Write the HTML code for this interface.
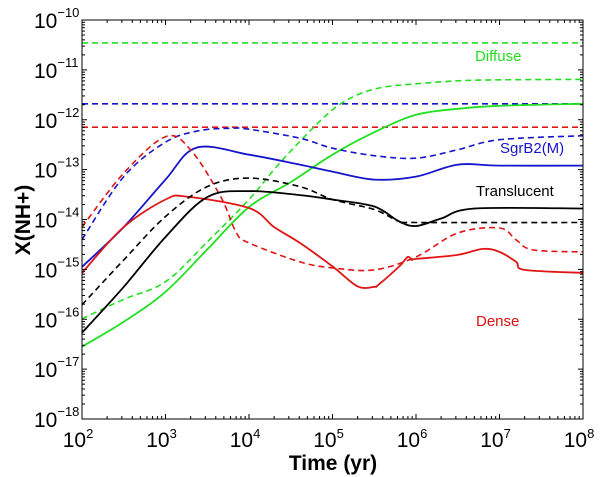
<!DOCTYPE html>
<html><head><meta charset="utf-8"><style>
body{margin:0;background:#fff;}
svg{display:block;font-family:"Liberation Sans",sans-serif;}
</style></head><body>
<svg id="chart" width="600" height="477" viewBox="0 0 600 477" xmlns="http://www.w3.org/2000/svg">
<g id="grid"></g>
<g id="series"></g>
<rect x="82" y="20" width="501" height="399" fill="none" stroke="#000" stroke-width="1"/>
<g id="ticks"></g>
<text transform="translate(30,220) rotate(-90)" text-anchor="middle" font-size="21" font-weight="bold">X(NH+)</text>
<text x="333" y="470" text-anchor="middle" font-size="21" font-weight="bold">Time (yr)</text>
<text x="475" y="61" font-size="15" fill="#22dd22">Diffuse</text>
<text x="500" y="153" font-size="15" fill="#1515cc">SgrB2(M)</text>
<text x="476" y="196" font-size="15" fill="#000">Translucent</text>
<text x="476" y="326" font-size="15" fill="#dd1111">Dense</text>
</svg>
<script>
const xTicks=[2,3,4,5,6,7,8];
const yTicks=[-18,-17,-16,-15,-14,-13,-12,-11,-10];
const obsDiffuse=-10.46, obsSgr=-11.68, obsDense=-12.15;
const greenDashX=[2,2.5,3,3.5,4,4.3,4.6,5.0,5.3,5.6,6,6.5,7,8];
const greenDashY=[-15.99,-15.6,-15.25,-14.45,-13.6,-13.0,-12.45,-11.8,-11.5,-11.35,-11.28,-11.22,-11.2,-11.19];
const greenX=[2,2.5,3,3.5,4,4.5,5,5.5,6,6.5,7,8];
const greenY=[-16.55,-16.05,-15.45,-14.6,-13.75,-13.25,-12.7,-12.25,-11.9,-11.78,-11.72,-11.68];
const blueDashX=[2,2.5,3,3.4,3.8,4,4.61,5,5.5,6,6.5,7,8];
const blueDashY=[-14.4,-13.14,-12.45,-12.22,-12.17,-12.19,-12.37,-12.57,-12.72,-12.77,-12.6,-12.4,-12.32];
const blueX=[2,2.5,3,3.37,4,4.61,5,5.5,6,6.5,7,8];
const blueY=[-14.95,-14.15,-13.2,-12.56,-12.7,-12.9,-13.04,-13.2,-13.14,-12.9,-12.92,-12.92];
const redDashX=[2,2.5,3,3.3,3.66,3.85,4,4.61,5,5.5,6,6.5,7,7.2,7.4,8];
const redDashY=[-14.15,-13.07,-12.34,-12.6,-13.54,-14.27,-14.47,-14.85,-14.97,-15.01,-14.75,-14.27,-14.17,-14.41,-14.61,-14.65];
const redX=[2,2.5,3,3.25,4,4.3,4.61,5,5.3,5.5,5.55,5.8,5.9,5.95,6,6.5,6.8,7,7.2,7.3,8];
const redY=[-15.07,-14.15,-13.6,-13.54,-13.77,-14.15,-14.47,-14.94,-15.34,-15.35,-15.31,-14.94,-14.75,-14.81,-14.79,-14.71,-14.59,-14.65,-14.85,-15.01,-15.07];
const blackDashX=[2,2.5,3,3.5,4,4.61,5,5.5,5.8,6,8];
const blackDashY=[-15.71,-14.81,-13.94,-13.34,-13.17,-13.34,-13.6,-13.8,-14.04,-14.06,-14.06];
const blackX=[2,2.5,3,3.5,4,4.61,5,5.5,5.8,6,6.3,6.7,8];
const blackY=[-16.27,-15.35,-14.35,-13.55,-13.43,-13.51,-13.6,-13.74,-14.04,-14.13,-13.98,-13.78,-13.78];

const X0=82,X1=583,Y0=419,Y1=20;
const sx=v=>X0+(v-2)/6*(X1-X0);
const sy=v=>Y0-(v+18)/8*(Y0-Y1);
const NS='http://www.w3.org/2000/svg';
const ser=document.getElementById('series');
const tk=document.getElementById('ticks');
function mk(t,a,p){const e=document.createElementNS(NS,t);for(const k in a)e.setAttribute(k,a[k]);p.appendChild(e);return e;}
function pathFrom(xs,ys){
  const P=xs.map((x,i)=>[sx(x),sy(ys[i])]);
  let d='M'+P[0][0].toFixed(1)+','+P[0][1].toFixed(1);
  for(let i=0;i<P.length-1;i++){
    const p0=P[i-1]||P[i],p1=P[i],p2=P[i+1],p3=P[i+2]||P[i+1];
    const c1=[p1[0]+(p2[0]-p0[0])/6,p1[1]+(p2[1]-p0[1])/6];
    const c2=[p2[0]-(p3[0]-p1[0])/6,p2[1]-(p3[1]-p1[1])/6];
    d+=' C'+c1.map(v=>v.toFixed(1)).join(',')+' '+c2.map(v=>v.toFixed(1)).join(',')+' '+p2.map(v=>v.toFixed(1)).join(',');
  }
  return d;
}
function line(xs,ys,col,dash,name){
  const e=mk('path',{d:pathFrom(xs,ys),fill:'none',stroke:col,'stroke-width':dash?1.6:1.8},ser);
  if(dash)e.setAttribute('stroke-dasharray','6,4');
  
  
}
function hline(v,col,name){
  const e=mk('line',{x1:X0,x2:X1,y1:sy(v),y2:sy(v),stroke:col,'stroke-width':1.6,'stroke-dasharray':'6,4'},ser);
  
  
}
const G='#22e022',B='#1515cc',R='#e01515',K='#000';
hline(obsDiffuse,G,'observed-diffuse');
hline(obsSgr,B,'observed-sgrb2');
hline(obsDense,R,'observed-dense');
line(greenDashX,greenDashY,G,true,'diffuse-dashed');
line(greenX,greenY,G,false,'diffuse-solid');
line(blueDashX,blueDashY,B,true,'sgrb2-dashed');
line(blueX,blueY,B,false,'sgrb2-solid');
line(redDashX,redDashY,R,true,'dense-dashed');
line(redX,redY,R,false,'dense-solid');
line(blackDashX,blackDashY,K,true,'translucent-dashed');
line(blackX,blackY,K,false,'translucent-solid');

xTicks.forEach(v=>{
  const x=sx(v);
  mk('line',{x1:x,x2:x,y1:Y0,y2:Y0-5,stroke:'#000'},tk);
  mk('line',{x1:x,x2:x,y1:Y1,y2:Y1+5,stroke:'#000'},tk);
  if(v<8)for(let m=2;m<10;m++){const xm=sx(v+Math.log10(m));
    mk('line',{x1:xm,x2:xm,y1:Y0,y2:Y0-3,stroke:'#000'},tk);
    mk('line',{x1:xm,x2:xm,y1:Y1,y2:Y1+3,stroke:'#000'},tk);}
  const t=mk('text',{x:x-4,y:447,'text-anchor':'middle','font-size':21},tk);
  
  
  t.textContent='10';
  const s=mk('tspan',{dy:-9,'font-size':13},t);s.textContent=String(v);
});
yTicks.forEach(v=>{
  const y=sy(v);
  mk('line',{x1:X0,x2:X0+5,y1:y,y2:y,stroke:'#000'},tk);
  mk('line',{x1:X1,x2:X1-5,y1:y,y2:y,stroke:'#000'},tk);
  if(v<-10)for(let m=2;m<10;m++){const ym=sy(v+Math.log10(m));
    mk('line',{x1:X0,x2:X0+3,y1:ym,y2:ym,stroke:'#000'},tk);
    mk('line',{x1:X1,x2:X1-3,y1:ym,y2:ym,stroke:'#000'},tk);}
  const t=mk('text',{x:34,y:y+8,'font-size':21},tk);
  
  
  t.textContent='10';
  const s=mk('tspan',{dy:-11,'font-size':13},t);s.textContent='\u2212'+(-v);
});
</script>
</body></html>
